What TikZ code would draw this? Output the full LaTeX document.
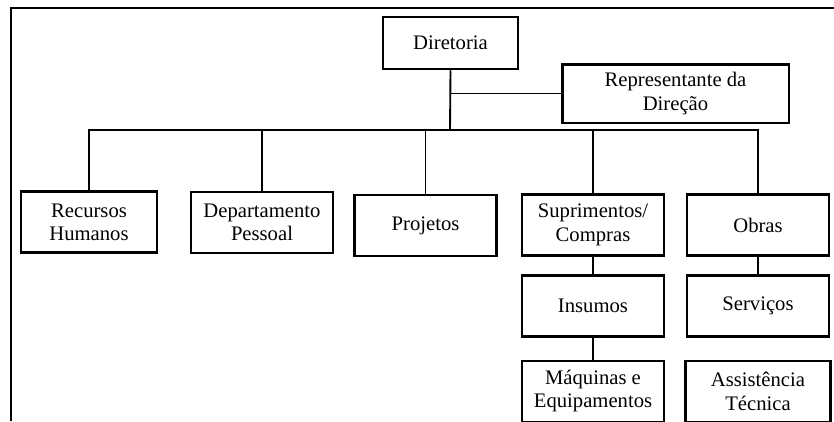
\documentclass[tikz,border=0pt]{standalone}
\usepackage{fontspec}
\setmainfont{Liberation Serif}
\usetikzlibrary{positioning}

\begin{document}
\begin{tikzpicture}[
    x=0.75pt, y=-0.75pt,
    box/.style={draw, line width=2pt, minimum width=106.5pt, minimum height=45.75pt, align=center, inner sep=2pt, font=\fontsize{15.5}{17.5}\selectfont},
    link/.style={line width=1.4pt}
]
\useasboundingbox (0,0) rectangle (834,421);
\draw[line width=2pt] (11,421) -- (11,8) -- (834,8);

\node[box, minimum width=101.25pt, minimum height=39pt] (dir) at (450.5,43) {Diretoria};
\node[box, minimum width=170pt, minimum height=44pt] (rep) at (675.5,93.5) {Representante da\\Direção};

\node[box, minimum width=102pt] (rh) at (89,222) {Recursos\\Humanos};
\node[box] (dp) at (262,222.5) {Departamento\\Pessoal};
\node[box] (proj) at (425.5,225.5) {Projetos};
\node[box] (sup) at (593,225) {Suprimentos/\\Compras};
\node[box] (obras) at (758,225) {Obras};
\node[box, below=12.75pt of sup] (ins) {Insumos};
\node[box, below=12.75pt of obras] (serv) {Serviços};
\node[box, below=16.5pt of ins] (maq) {Máquinas e\\Equipamentos};
\node[box, minimum width=108.75pt, below=16.5pt of serv] (assist) {Assistência\\Técnica};

\coordinate (bus) at (450,130);
\draw[link] (dir.south) -- (dir.south |- rep.west) -- (rep.west);
\draw[link] (dir.south) -- (bus);
\draw[link] (rh.north) -- (rh.north |- bus) -- (obras.north |- bus) -- (obras.north);
\foreach \n in {dp,proj,sup}
    \draw[link] (\n.north) -- (\n.north |- bus);
\draw[link] (sup) -- (ins);
\draw[link] (ins) -- (maq);
\draw[link] (obras) -- (serv);
\end{tikzpicture}
\end{document}
